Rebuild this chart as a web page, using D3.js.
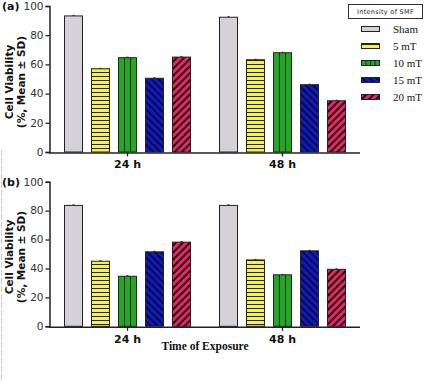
<!DOCTYPE html>
<html><head><meta charset="utf-8">
<script src="https://cdn.jsdelivr.net/npm/d3@7"></script>
<style>body{margin:0;background:#fff}svg{display:block}</style>
</head><body>
<script>
const groups = ["24 h", "48 h"];
const series = ["Sham", "5 mT", "10 mT", "15 mT", "20 mT"];
const valuesA = {"24 h": [93.2, 57.0, 64.6, 50.5, 65.0], "48 h": [92.3, 63.2, 68.0, 46.1, 35.1]};
const valuesB = {"24 h": [83.6, 45.0, 34.6, 51.5, 58.2], "48 h": [83.6, 45.9, 35.6, 52.2, 39.4]};
const yTicks = [0, 20, 40, 60, 80, 100];
const colors = ["#d4d1d8", "#f6f33a", "#21a824", "#0b16e0", "#f22163"];

const W = 429, H = 381;
const svg = d3.select("body").append("svg").attr("width", W).attr("height", H);
const defs = svg.append("defs");

// patterns
const ph = defs.append("pattern").attr("id","p1").attr("patternUnits","userSpaceOnUse").attr("width",8).attr("height",4);
ph.append("rect").attr("width",8).attr("height",4).attr("fill",colors[1]);
ph.append("line").attr("x1",0).attr("x2",8).attr("y1",0.5).attr("y2",0.5).attr("stroke","#222").attr("stroke-width",1);
function diag(id, color, angle){
  const p = defs.append("pattern").attr("id",id).attr("patternUnits","userSpaceOnUse")
    .attr("width",5).attr("height",10).attr("patternTransform",`rotate(${angle})`);
  p.append("rect").attr("width",5).attr("height",10).attr("fill",color);
  p.append("line").attr("x1",1).attr("x2",1).attr("y1",0).attr("y2",10).attr("stroke","#111").attr("stroke-width",2);
}
diag("p3", colors[3], -45);
diag("p4", colors[4], 45);
const fills = [colors[0], "url(#p1)", colors[2], "url(#p3)", "url(#p4)"];

const x0 = d3.scaleBand().domain(groups).range([50, 360]);
const x1 = d3.scaleBand().domain(series).range([0, x0.bandwidth()]).paddingInner(1/3).paddingOuter(0.537);

function panel(vals, top, bottom, label){
  const y = d3.scaleLinear().domain([0,100]).range([bottom, top]);
  const g = svg.append("g");
  // bars
  groups.forEach(grp => {
    series.forEach((s,i) => {
      const bx = x0(grp) + x1(s), bw = x1.bandwidth(), v = vals[grp][i];
      g.append("rect").attr("x", bx).attr("y", y(v)).attr("width", bw).attr("height", y(0)-y(v))
        .attr("fill", fills[i]).attr("stroke","#222").attr("stroke-width",1);
      if (i === 2) {
        [1,2].forEach(k => g.append("line").attr("x1", bx + bw*k/3).attr("x2", bx + bw*k/3)
          .attr("y1", y(v)).attr("y2", y(0)).attr("stroke","#222").attr("stroke-width",1));
      }
      // small error cap
      g.append("line").attr("x1", bx+bw/2-1).attr("x2", bx+bw/2+1).attr("y1", y(v)-0.5).attr("y2", y(v)-0.5)
        .attr("stroke","#222").attr("stroke-width",1);
    });
  });
  // y axis
  const ya = g.append("g").attr("transform","translate(49.5,0)")
    .call(d3.axisLeft(y).tickValues(yTicks).tickSize(4).tickPadding(2));
  ya.select(".domain").attr("stroke","#222").attr("stroke-width",1.5);
  ya.selectAll(".tick line").attr("stroke","#222").attr("stroke-width",1.3);
  ya.selectAll("text").attr("font-family","DejaVu Sans").attr("font-size",10.5).attr("fill","#333");
  // x axis
  const xa = g.append("g").attr("transform",`translate(0,${bottom+0.5})`)
    .call(d3.axisBottom(x0).tickSize(4).tickPadding(4).tickSizeOuter(0));
  xa.select(".domain").attr("stroke","#222").attr("stroke-width",1.5).attr("d", `M49,0.5H360`);
  xa.selectAll(".tick line").attr("stroke","#222").attr("stroke-width",1.3);
  xa.selectAll("text").attr("font-family","DejaVu Sans").attr("font-weight","bold").attr("font-size",11).attr("fill","#111");
  // y title
  const cy = (top+bottom)/2 + 3;
  g.append("text").attr("transform",`translate(13,${cy}) rotate(-90)`).attr("text-anchor","middle")
    .attr("font-family","DejaVu Sans").attr("font-weight","bold").attr("font-size",10.5).attr("fill","#111").text("Cell Viability");
  g.append("text").attr("transform",`translate(25,${cy}) rotate(-90)`).attr("text-anchor","middle")
    .attr("font-family","DejaVu Sans").attr("font-weight","bold").attr("font-size",10.5).attr("fill","#111").text("(%, Mean ± SD)");
  g.append("text").attr("x",2).attr("y",top+4).attr("font-family","DejaVu Sans").attr("font-weight","bold")
    .attr("font-size",11).attr("fill","#111").text(label);
}
panel(valuesA, 6, 152, "(a)");
panel(valuesB, 181.7, 326.3, "(b)");

svg.append("text").attr("x",205).attr("y",350).attr("text-anchor","middle").attr("font-family","Liberation Serif")
  .attr("font-weight","bold").attr("font-size",11.5).attr("fill","#111").text("Time of Exposure");

// legend
svg.append("rect").attr("x",348.5).attr("y",4.5).attr("width",74).attr("height",14).attr("fill","#fff").attr("stroke","#333").attr("stroke-width",1);
svg.append("text").attr("x",385.5).attr("y",14).attr("text-anchor","middle").attr("font-family","DejaVu Sans")
  .attr("font-size",6.5).attr("letter-spacing",0.3).attr("fill","#222").text("Intensity of SMF");
series.forEach((s,i) => {
  const ly = 29 + i*17;
  svg.append("rect").attr("x",361.5).attr("y",ly-2.5).attr("width",18).attr("height",5)
    .attr("fill", fills[i]).attr("stroke","#222").attr("stroke-width",1);
  if (i === 2) [1,2,3].forEach(k => svg.append("line").attr("x1",361.5+18*k/4).attr("x2",361.5+18*k/4)
    .attr("y1",ly-2.5).attr("y2",ly+2.5).attr("stroke","#222").attr("stroke-width",1));
  svg.append("text").attr("x",393).attr("y",ly+4).attr("font-family","Liberation Serif").attr("font-size",11)
    .attr("fill","#111").text(s);
});
// faint left border
svg.append("line").attr("x1",1.5).attr("x2",1.5).attr("y1",150).attr("y2",381).attr("stroke","#ccc").attr("stroke-width",1).attr("stroke-dasharray","6,2");
</script>
</body></html>
